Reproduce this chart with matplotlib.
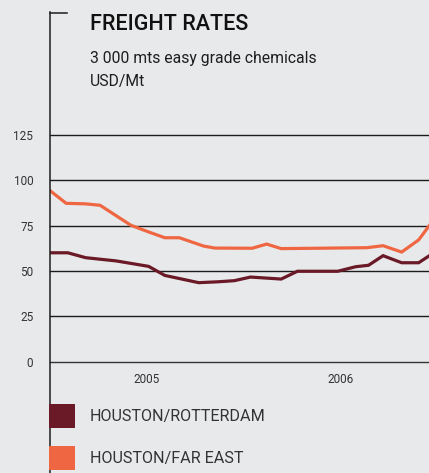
import matplotlib
matplotlib.use("Agg")
import matplotlib.pyplot as plt
from matplotlib.lines import Line2D
from matplotlib.patches import Rectangle

# months since Jan 2005, USD/Mt
rotterdam_months = [0, 1.1, 2.2, 4.1, 6.1, 7.1, 9.2, 10.4, 11.4, 12.4, 14.3, 15.3,
                    17.8, 18.9, 19.7, 20.6, 21.75, 22.8, 23.5]
rotterdam_rates = [60.0, 60.0, 57.3, 55.5, 52.5, 47.5, 43.5, 44.0, 44.6, 46.6, 45.5, 49.8,
                   49.8, 52.3, 53.1, 58.4, 54.5, 54.5, 58.6]

fareast_months = [0, 1, 2.2, 3.1, 5.0, 6.1, 7.1, 8.0, 9.5, 10.2, 12.5, 13.4, 14.3,
                  19.6, 20.6, 21.75, 22.8, 23.5]
fareast_rates = [94.3, 87.3, 87.0, 86.2, 75.2, 71.5, 68.3, 68.3, 63.7, 62.6, 62.5, 64.8, 62.3,
                 62.8, 63.9, 60.4, 67.1, 75.5]

series_names = ["HOUSTON/ROTTERDAM", "HOUSTON/FAR EAST"]
series_colors = ["#6a1926", "#ef6742"]
y_ticks = [0, 25, 50, 75, 100, 125]
year_labels = ["2005", "2006"]
year_centres = [6, 18]

W, H = 429, 473
BG = "#e8e9eb"
FONT = ["Roboto", "DejaVu Sans"]
plt.rcParams["font.family"] = FONT


def fx(px):
    return px / W


def fy(py):
    return 1 - py / H


fig = plt.figure(figsize=(W / 100, H / 100), dpi=100, facecolor=BG)
ax = fig.add_axes([fx(50), fy(361.5), fx(429) - fx(50), fy(135) - fy(361.5)])
ax.set_facecolor("none")

for v in y_ticks:
    ax.axhline(v, color="#1c1c1c" if v else "#333333", lw=1.0, clip_on=False, zorder=1)

ax.plot(rotterdam_months, rotterdam_rates, color=series_colors[0], lw=2.3,
        solid_joinstyle="miter", zorder=3)
ax.plot(fareast_months, fareast_rates, color=series_colors[1], lw=2.3,
        solid_joinstyle="miter", zorder=3)

ax.set_xlim(0, 23.44)
ax.set_ylim(0, 125)
for s in ax.spines.values():
    s.set_visible(False)

ax.set_yticks(y_ticks)
ax.set_yticklabels([str(v) for v in y_ticks], fontsize=8.5, color="#333333")
ax.tick_params(axis="y", length=0, pad=12)
ax.set_xticks(year_centres)
ax.set_xticklabels(year_labels, fontsize=8.5, color="#333333")
ax.tick_params(axis="x", length=0, pad=8)

# frame line with the small bracket at the top
fig.add_artist(Line2D([fx(49.5), fx(49.5)], [fy(12.5), fy(473)], color="#1e1e1e", lw=1.1))
fig.add_artist(Line2D([fx(49.5), fx(67)], [fy(13), fy(13)], color="#1e1e1e", lw=1.1))

fig.text(fx(90), fy(30), "FREIGHT RATES", fontsize=15.5, fontweight="medium",
         color="#111111", va="baseline")
fig.text(fx(90), fy(62.5), "3 000 mts easy grade chemicals", fontsize=11.3,
         color="#1e1e1e", va="baseline")
fig.text(fx(90), fy(86), "USD/Mt", fontsize=11.3, color="#1e1e1e", va="baseline")

# legend
for i, (name, col) in enumerate(zip(series_names, series_colors)):
    top = 403.5 + i * 42
    fig.add_artist(Rectangle((fx(49), fy(top + 24.5)), fx(75) - fx(49), fy(top) - fy(top + 24.5),
                             facecolor=col, edgecolor="none", zorder=5))
    fig.text(fx(90), fy(top + 12.5), name, fontsize=11.6, color="#333333", va="center")

fig.savefig("out.png", dpi=100, facecolor=BG)
